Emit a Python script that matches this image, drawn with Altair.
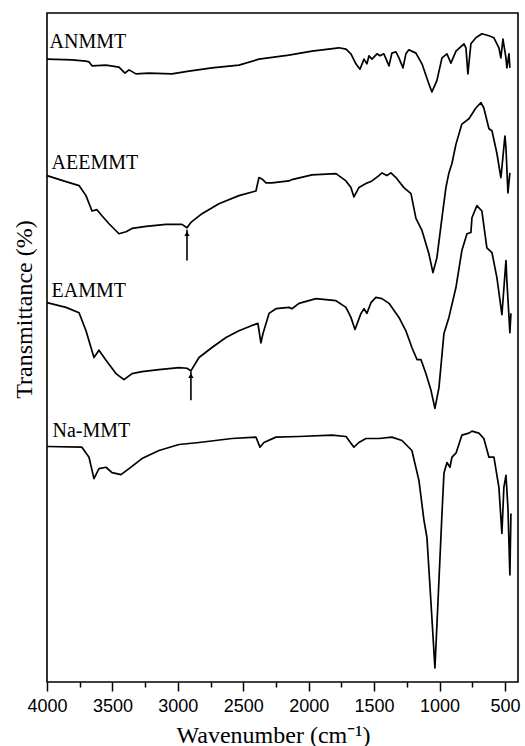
import altair as alt
import pandas as pd

# ---- ANMMT (top trace) ----
an_wn = [4000, 3809, 3702, 3680, 3656, 3549, 3450, 3404, 3373, 3320, 3221, 3045, 2915, 2739,
         2533, 2380, 2151, 1975, 1769, 1715, 1677, 1639, 1608, 1577, 1555, 1539, 1516, 1478,
         1455, 1425, 1386, 1364, 1333, 1310, 1279, 1257, 1234, 1180, 1134, 1081, 1058, 1020,
         981, 943, 913, 874, 813, 798, 783, 760, 722, 676, 622, 584, 546, 531, 515, 492, 485,
         469, 462]
an_t = [93.1, 93.0, 92.8, 92.7, 92.1, 92.2, 91.9, 91.0, 91.5, 90.9, 91.0, 90.9, 91.3, 91.8,
        92.2, 93.1, 93.7, 94.3, 94.8, 94.6, 93.9, 92.4, 91.6, 93.1, 92.4, 93.6, 93.1, 93.9,
        93.6, 93.9, 92.1, 94.0, 94.2, 93.3, 91.8, 93.9, 94.5, 94.0, 92.4, 89.4, 88.2, 89.9,
        93.3, 93.9, 92.5, 94.3, 95.4, 94.8, 90.9, 95.4, 96.3, 96.9, 96.6, 96.3, 94.8, 93.3,
        96.1, 93.3, 91.8, 93.9, 91.8]

# ---- AEEMMT ----
ae_wn = [4000, 3855, 3755, 3702, 3656, 3618, 3580, 3526, 3450, 3396, 3350, 3243, 3091, 2968,
         2930, 2900, 2815, 2686, 2533, 2403, 2380, 2357, 2326, 2281, 2151, 2128, 1975, 1791,
         1715, 1677, 1654, 1616, 1562, 1516, 1463, 1440, 1402, 1371, 1333, 1272, 1218, 1180,
         1134, 1081, 1050, 1020, 981, 951, 928, 905, 874, 829, 775, 722, 683, 661, 622, 599,
         561, 531, 523, 500, 492, 477, 462]
ae_t = [75.7, 74.8, 74.2, 72.7, 70.4, 70.6, 69.7, 68.5, 67.0, 67.3, 67.8, 68.1, 68.4, 68.4,
        67.9, 68.7, 70.0, 71.5, 72.7, 73.4, 75.4, 75.2, 74.6, 74.6, 74.9, 75.1, 75.8, 76.0,
        74.9, 73.9, 72.5, 73.9, 74.5, 74.9, 75.7, 76.1, 75.7, 76.1, 75.4, 73.9, 73.0, 69.3,
        67.5, 64.0, 61.2, 63.4, 69.4, 73.9, 76.1, 77.5, 80.4, 83.4, 84.2, 85.8, 86.6, 85.8,
        82.7, 82.4, 79.0, 75.4, 76.9, 81.6, 79.9, 73.1, 76.1]

# ---- EAMMT ----
ea_wn = [4000, 3855, 3755, 3702, 3641, 3603, 3549, 3473, 3412, 3350, 3274, 3144, 2991, 2930,
         2900, 2838, 2739, 2632, 2533, 2433, 2388, 2365, 2349, 2303, 2250, 2151, 2128, 2074,
         1944, 1791, 1715, 1677, 1646, 1600, 1577, 1555, 1524, 1486, 1440, 1386, 1310, 1257,
         1211, 1172, 1142, 1104, 1065, 1035, 1004, 966, 928, 874, 829, 790, 760, 752, 714,
         676, 638, 599, 561, 523, 492, 485, 462, 454]
ea_t = [56.7, 56.0, 55.2, 52.5, 48.5, 49.6, 48.1, 46.1, 45.2, 46.1, 46.4, 46.7, 47.0, 46.9,
        46.5, 48.5, 50.0, 51.5, 52.5, 53.3, 53.6, 50.7, 52.1, 55.1, 55.8, 56.0, 55.8, 56.6,
        57.3, 57.0, 56.0, 54.5, 52.7, 55.1, 55.8, 55.1, 56.7, 57.5, 57.3, 56.6, 54.5, 52.5,
        50.0, 48.2, 48.2, 46.1, 43.6, 40.9, 44.0, 52.1, 54.5, 59.0, 64.5, 67.0, 67.2, 69.4,
        71.2, 70.4, 64.9, 64.2, 60.4, 54.9, 63.0, 60.0, 52.2, 55.1]

# ---- Na-MMT ----
na_wn = [4000, 3733, 3679, 3641, 3603, 3549, 3503, 3435, 3373, 3274, 3144, 2991, 2838, 2586,
         2403, 2372, 2342, 2250, 2074, 1822, 1715, 1654, 1616, 1562, 1463, 1364, 1287, 1211,
         1157, 1119, 1096, 1065, 1035, 1012, 981, 966, 943, 920, 905, 874, 829, 775, 752, 699,
         661, 622, 584, 546, 523, 508, 492, 477, 462, 454]
na_t = [35.2, 35.1, 33.6, 30.4, 31.9, 32.1, 31.3, 31.0, 31.9, 33.4, 34.6, 35.5, 35.8, 36.4,
        36.6, 35.1, 35.8, 36.6, 36.7, 36.9, 36.7, 35.1, 35.8, 36.4, 36.4, 36.6, 36.1, 34.6,
        30.1, 24.2, 21.6, 11.8, 2.1, 11.8, 25.2, 31.2, 32.8, 32.1, 33.6, 34.2, 36.9, 37.2,
        37.5, 37.2, 36.4, 33.6, 33.6, 29.1, 22.2, 29.1, 30.9, 26.1, 16.0, 25.2]

# ---- labels & arrows ----
series_names = ["ANMMT", "AEEMMT", "EAMMT", "Na-MMT"]
label_wn = [3980, 3965, 3965, 3958]
label_t = [94.8, 76.7, 57.6, 36.6]

arrow_wn = [2930, 2900]
arrow_tip = [67.6, 46.4]
arrow_tail = [63.0, 42.1]

major_ticks = [4000, 3500, 3000, 2500, 2000, 1500, 1000, 500]
minor_ticks = [3750, 3250, 2750, 2250, 1750, 1250, 750]

frames = []
for name, w, t in zip(series_names, [an_wn, ae_wn, ea_wn, na_wn], [an_t, ae_t, ea_t, na_t]):
    frames.append(pd.DataFrame({"wn": w, "t": t, "series": name}))
spectra = pd.concat(frames, ignore_index=True)

labels_df = pd.DataFrame({"wn": label_wn, "t": label_t, "name": series_names})
arrows_df = pd.DataFrame({"wn": arrow_wn, "t": arrow_tail, "tip": arrow_tip})
heads_df = pd.DataFrame({"wn": arrow_wn, "t": arrow_tip})

xscale = alt.Scale(domain=[400, 4000], reverse=True, nice=False, zero=False)
yscale = alt.Scale(domain=[0, 100], nice=False, zero=False)

serif = "Liberation Serif"
sans = "Liberation Sans"

yaxis = alt.Axis(title="Transmittance (%)", labels=False, ticks=False, domain=False,
                 grid=False, titleFont=serif, titleFontSize=24,
                 titleFontWeight="normal", titleColor="black", titleX=-16,
                 titleY=296, titleBaseline="alphabetic")

lines = alt.Chart(spectra).mark_line(color="black", strokeWidth=1.7, strokeJoin="round").encode(
    x=alt.X("wn:Q", scale=xscale,
            axis=alt.Axis(values=major_ticks, format="d", title="Wavenumber (cm⁻¹)",
                          labelFont=sans, labelFontSize=18, labelColor="black",
                          tickColor="black", tickWidth=1.5, tickSize=9, labelPadding=6,
                          domain=False, grid=False, labelFlush=False, labelOverlap=False,
                          titleFont=serif, titleFontSize=24, titleFontWeight="normal",
                          titleColor="black", titleX=226, titleY=60,
                          titleBaseline="alphabetic", orient="bottom")),
    y=alt.Y("t:Q", scale=yscale, axis=yaxis),
    detail="series:N",
)

texts = alt.Chart(labels_df).mark_text(
    font=serif, fontSize=20, color="black", align="left", baseline="alphabetic"
).encode(
    x=alt.X("wn:Q", scale=xscale,
            axis=alt.Axis(values=minor_ticks, labels=False, title="", tickSize=5,
                          tickColor="black", tickWidth=1.5, domain=False, grid=False,
                          orient="bottom")),
    y=alt.Y("t:Q", scale=yscale, axis=yaxis),
    text="name:N",
)

arrow_shafts = alt.Chart(arrows_df).mark_rule(color="black", strokeWidth=1.6).encode(
    x=alt.X("wn:Q", scale=xscale, axis=None),
    y=alt.Y("t:Q", scale=yscale, axis=yaxis),
    y2="tip:Q",
)

arrow_heads = alt.Chart(heads_df).mark_point(
    shape="triangle-up", filled=True, color="black", size=28, opacity=1, yOffset=4
).encode(
    x=alt.X("wn:Q", scale=xscale, axis=None),
    y=alt.Y("t:Q", scale=yscale, axis=yaxis),
)

chart = alt.layer(lines, texts, arrow_shafts, arrow_heads).resolve_axis(
    x="independent", y="shared"
).properties(
    width=471, height=669,
    autosize=alt.AutoSizeParams(type="none"),
    padding={"left": 47, "top": 13, "right": 7, "bottom": 64},
    background="white",
).configure_view(stroke="black", strokeWidth=1.6)

chart.save("out.html", embed_options={"renderer": "svg", "actions": False})
